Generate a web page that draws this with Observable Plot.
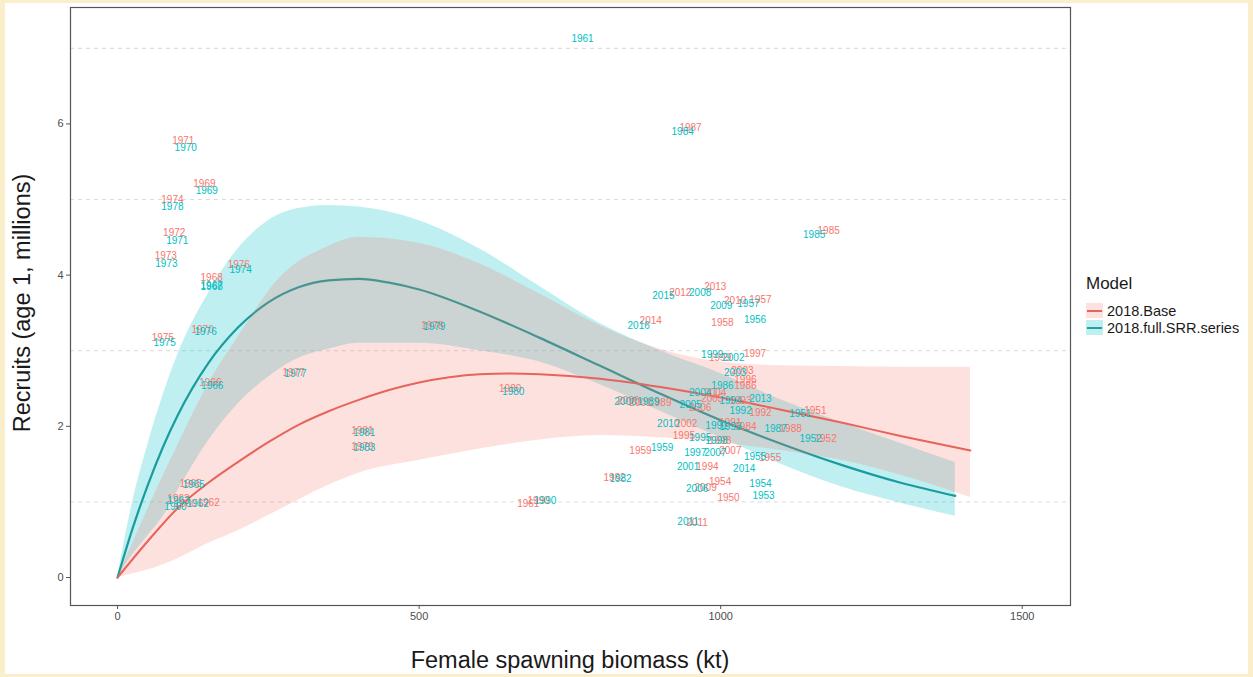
<!DOCTYPE html>
<html><head><meta charset="utf-8">
<script src="https://cdn.jsdelivr.net/npm/d3@7"></script>
<script src="https://cdn.jsdelivr.net/npm/@observablehq/plot@0.6"></script>
<style>
html,body{margin:0;padding:0;background:#fbeecb;width:1253px;height:677px;overflow:hidden;font-family:"Liberation Sans",Arial,sans-serif;}
#frame{position:absolute;left:5px;top:3px;width:1243px;height:671px;background:#fff;}
#chart{position:absolute;left:0;top:0;}
.ttl{position:absolute;color:#1a1a1a;font-size:23.5px;white-space:nowrap;}
#ytitle{left:22px;top:303px;transform:translate(-50%,-50%) rotate(-90deg);}
#xtitle{left:570px;top:660px;transform:translate(-50%,-50%);}
#legend{position:absolute;left:1086px;top:274px;color:#1a1a1a;}
#legend .lt{font-size:17px;line-height:19px;margin-bottom:9px;}
#legend .it{display:flex;align-items:center;font-size:14.5px;height:17px;}
#legend .key{width:17px;height:15px;position:relative;margin-right:4px;}
#legend .key i{position:absolute;left:1px;right:1px;top:6.5px;height:2px;}
</style></head>
<body>
<div id="frame"></div>
<div id="chart"></div>
<div class="ttl" id="ytitle">Recruits (age 1, millions)</div>
<div class="ttl" id="xtitle">Female spawning biomass (kt)</div>
<div id="legend">
  <div class="lt">Model</div>
  <div class="it"><div class="key" style="background:rgba(248,118,109,0.22)"><i style="background:#e8635b"></i></div>2018.Base</div>
  <div class="it"><div class="key" style="background:rgba(0,191,196,0.25)"><i style="background:#1fa0a2"></i></div>2018.full.SRR.series</div>
</div>
<script>
// ---- Data ----
const models = ["2018.Base", "2018.full.SRR.series"];
const modelColors = ["#F8766D", "#00BFC4"];
const xTicks = [0, 500, 1000, 1500];
const yTicks = [0, 2, 4, 6];
const yGrid = [1, 3, 5, 7];

// Fitted curves
const baseCurveSSB = [0, 50, 100, 150, 200, 250, 300, 350, 400, 450, 500, 550, 600, 650, 700, 800, 900, 1000, 1100, 1200, 1300, 1414];
const baseCurveR   = [0, 0.48, 0.92, 1.25, 1.53, 1.79, 2.02, 2.20, 2.35, 2.48, 2.58, 2.65, 2.69, 2.70, 2.69, 2.63, 2.52, 2.38, 2.22, 2.05, 1.87, 1.68];
const fullCurveSSB = [0, 25, 50, 75, 100, 150, 200, 250, 300, 350, 400, 450, 500, 600, 700, 800, 900, 1000, 1100, 1200, 1300, 1389];
const fullCurveR   = [0, 0.65, 1.22, 1.72, 2.15, 2.83, 3.31, 3.64, 3.84, 3.93, 3.95, 3.90, 3.81, 3.52, 3.17, 2.80, 2.43, 2.08, 1.77, 1.49, 1.25, 1.08];

// Confidence ribbons
const baseBandSSB = [0, 25, 50, 100, 150, 200, 265, 350, 400, 500, 600, 700, 800, 900, 1000, 1100, 1200, 1300, 1414];
const baseBandLo  = [0, 0.05, 0.10, 0.25, 0.45, 0.62, 0.88, 1.22, 1.38, 1.55, 1.70, 1.82, 1.88, 1.85, 1.78, 1.68, 1.55, 1.35, 1.06];
const baseBandHi  = [0, 0.45, 0.90, 1.75, 2.55, 3.18, 3.93, 4.38, 4.50, 4.42, 4.15, 3.75, 3.33, 3.02, 2.85, 2.80, 2.79, 2.78, 2.78];
const fullBandSSB = [0, 25, 50, 75, 100, 150, 200, 250, 300, 350, 400, 500, 600, 700, 800, 900, 1000, 1100, 1200, 1300, 1389];
const fullBandLo  = [0, 0.30, 0.55, 0.80, 1.15, 1.80, 2.30, 2.65, 2.90, 3.02, 3.10, 3.10, 3.00, 2.85, 2.55, 2.20, 1.85, 1.50, 1.20, 0.98, 0.81];
const fullBandHi  = [0, 1.00, 1.75, 2.40, 2.95, 3.75, 4.35, 4.72, 4.88, 4.92, 4.90, 4.72, 4.35, 3.85, 3.36, 3.00, 2.70, 2.35, 2.05, 1.77, 1.52];

// Year labels: 2018.Base
const baseYears = ["1971","1969","1974","1972","1973","1976","1968","1975","1970","1966","1977","1978","1980","1981","1979","1965","1963","1962","1961","1960","1990","1982","2011","1987","1985","2012","2013","2010","1957","1958","2014","1997","1999","1996","2003","2005","1993","2001","1989","2006","1951","2002","1984","1988","1991","1995","1952","1959","2007","1955","1994","1954","2009","1950","1992","1986","2004","2000","1998"];
const baseSSB = [109,144,91,94,80,201,156,75,141,154,292,522,651,406,406,121,101,151,681,113,698,824,961,950,1179,933,991,1024,1066,1003,884,1057,999,1041,1036,986,1033,867,900,966,1157,943,1041,1116,1016,939,1174,867,1016,1082,978,999,975,1013,1066,1041,991,847,999];
const baseRec = [5.78,5.21,5.00,4.56,4.25,4.14,3.97,3.17,3.28,2.57,2.71,3.33,2.49,1.94,1.73,1.24,1.04,0.99,0.98,0.98,1.02,1.32,0.73,5.95,4.59,3.77,3.84,3.66,3.68,3.37,3.39,2.96,2.91,2.61,2.74,2.37,2.34,2.31,2.31,2.25,2.20,2.04,2.00,1.97,2.05,1.87,1.84,1.68,1.68,1.59,1.47,1.27,1.19,1.06,2.18,2.54,2.45,2.34,1.81];

// Year labels: 2018.full.SRR.series
const fullYears = ["1961","1970","1969","1978","1971","1973","1974","1967","1968","1975","1976","1966","1977","1979","1980","1981","1983","1965","1963","1960","1962","1990","1982","2011","1984","1985","2015","2008","2009","1957","1956","2016","1999","2002","2003","1986","2004","1994","2000","1989","2005","1992","1951","2010","1991","1993","1987","1995","1998","1952","1959","1997","2007","1955","2001","1954","2006","1953","2013","2014"];
const fullSSB = [771,113,148,91,99,81,204,156,156,78,146,157,295,525,656,409,409,126,101,96,133,709,834,946,937,1155,905,966,1001,1046,1057,864,986,1021,1024,1003,966,1016,842,880,950,1033,1132,913,993,1016,1091,966,993,1149,903,958,991,1057,946,1066,961,1071,1066,1039];
const fullRec = [7.13,5.69,5.12,4.91,4.46,4.15,4.07,3.86,3.84,3.10,3.25,2.54,2.69,3.31,2.46,1.92,1.72,1.22,1.02,0.93,0.98,1.02,1.31,0.74,5.89,4.54,3.72,3.77,3.60,3.62,3.41,3.33,2.94,2.91,2.71,2.54,2.45,2.34,2.33,2.33,2.28,2.21,2.17,2.04,2.01,2.00,1.97,1.85,1.81,1.84,1.71,1.65,1.65,1.60,1.47,1.24,1.18,1.08,2.37,1.44];

// ---- Build tables ----
const zip = (xs, cols) => xs.map((x, i) => Object.fromEntries([["x", x], ...Object.entries(cols).map(([k, v]) => [k, v[i]])]));
const baseCurve = zip(baseCurveSSB, {y: baseCurveR});
const fullCurve = zip(fullCurveSSB, {y: fullCurveR});
const baseBand = zip(baseBandSSB, {lo: baseBandLo, hi: baseBandHi});
const fullBand = zip(fullBandSSB, {lo: fullBandLo, hi: fullBandHi});
const baseLabels = baseYears.map((t, i) => ({t, x: baseSSB[i], y: baseRec[i]}));
const fullLabels = fullYears.map((t, i) => ({t, x: fullSSB[i], y: fullRec[i]}));

const chart = Plot.plot({
  width: 1075, height: 677,
  marginLeft: 70, marginRight: 5, marginTop: 7, marginBottom: 72,
  style: {background: "transparent", fontFamily: "'Liberation Sans', Arial, sans-serif", fontSize: "11px", color: "#4d4d4d"},
  x: {domain: [-78, 1580]},
  y: {domain: [-0.37, 7.54]},
  marks: [
    Plot.ruleY(yGrid, {stroke: "#dadada", strokeWidth: 1, strokeDasharray: "4,4"}),
    Plot.areaY(fullBand, {x: "x", y1: "lo", y2: "hi", fill: modelColors[1], fillOpacity: 0.25, curve: "monotone-x"}),
    Plot.line(fullCurve, {x: "x", y: "y", stroke: "#1a9c9e", strokeWidth: 2.2, curve: "monotone-x"}),
    Plot.areaY(baseBand, {x: "x", y1: "lo", y2: "hi", fill: modelColors[0], fillOpacity: 0.22, curve: "monotone-x"}),
    Plot.line(baseCurve, {x: "x", y: "y", stroke: "#e8635b", strokeWidth: 2, curve: "monotone-x"}),
    Plot.text(baseLabels, {x: "x", y: "y", text: "t", fill: modelColors[0], fontSize: 10}),
    Plot.text(fullLabels, {x: "x", y: "y", text: "t", fill: modelColors[1], fontSize: 10}),
    Plot.frame({stroke: "#555", strokeWidth: 1.2}),
    Plot.axisX({ticks: xTicks, tickFormat: d => String(d), tickSize: 4, tickPadding: 3, label: null, stroke: "#555"}),
    Plot.axisY({ticks: yTicks, tickFormat: d => String(d), tickSize: 4, tickPadding: 3, label: null, stroke: "#555"})
  ]
});
document.getElementById("chart").append(chart);
</script>
</body></html>
